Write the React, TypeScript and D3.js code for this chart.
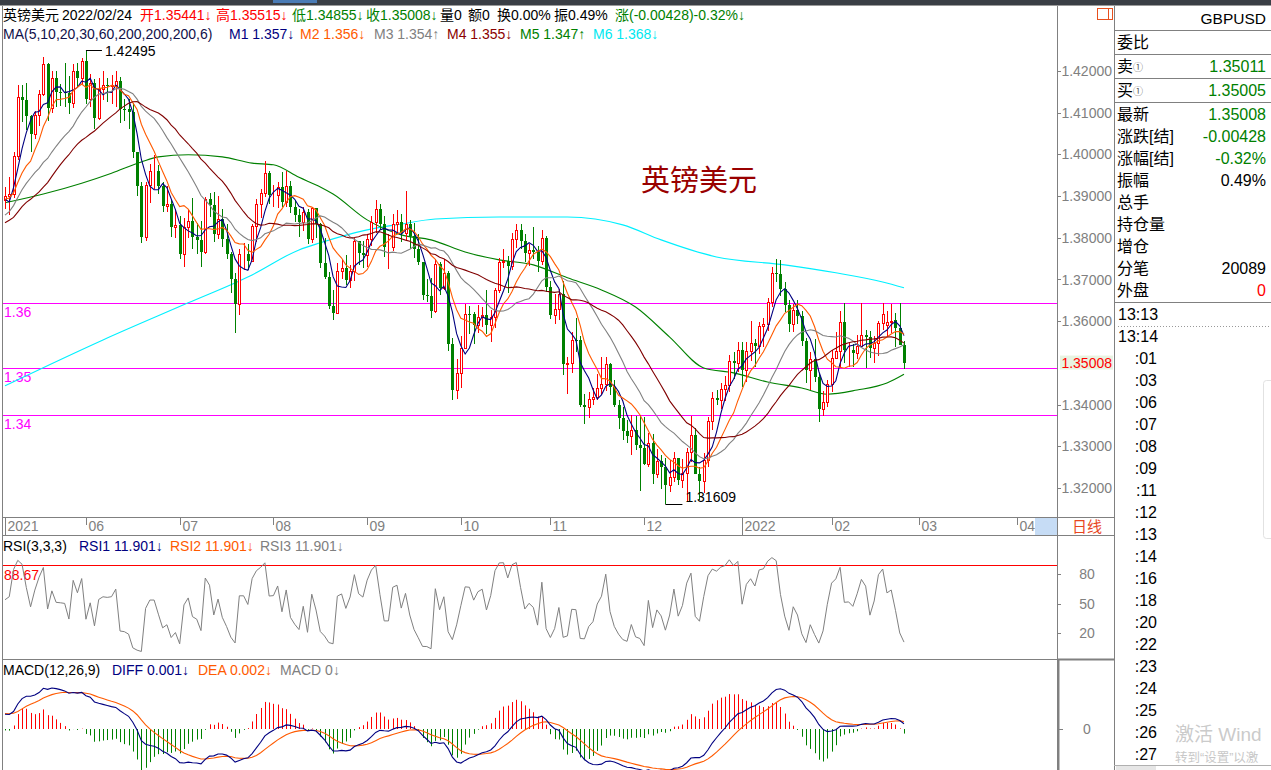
import React from 'react';
import * as d3 from 'd3';

const W = 1271;
const H = 770;
const FONT = '"Liberation Sans", Arial, "Noto Sans CJK SC", sans-serif';
const RED = '#ff0000';
const GREEN = '#008000';
const GRID = '#808080';

// closes before the first visible bar (indicator warm-up)
const preCloses = [1.3745, 1.3665, 1.3722, 1.3795, 1.3756, 1.3744, 1.3783, 1.3827, 1.383, 1.3881, 1.3865, 1.3791, 1.3737, 1.3711, 1.3745, 1.376, 1.3792, 1.379, 1.3834, 1.3942, 1.393, 1.3925, 1.3875, 1.3873, 1.3887, 1.3906, 1.3922, 1.3937, 1.3823, 1.3911, 1.3891];

// daily candles [open, high, low, close], 2021-05-05 .. 2022-02-24
const candles: number[][] = [
  [1.3891, 1.3923, 1.3869, 1.39], [1.39, 1.3947, 1.3855, 1.3905], [1.3905, 1.4006, 1.3896, 1.3995], [1.3995, 1.4167, 1.3987, 1.4138],
  [1.4138, 1.4166, 1.4077, 1.4131], [1.4131, 1.4171, 1.4058, 1.4092], [1.4092, 1.4095, 1.4006, 1.405], [1.405, 1.4105, 1.4038, 1.4094],
  [1.4094, 1.4155, 1.4069, 1.4146], [1.4146, 1.4234, 1.414, 1.4217], [1.4217, 1.4219, 1.4079, 1.4111], [1.4111, 1.42, 1.41, 1.4183],
  [1.4183, 1.42, 1.4114, 1.415], [1.415, 1.4168, 1.4115, 1.4149], [1.4149, 1.4219, 1.4114, 1.4148], [1.4148, 1.4187, 1.4098, 1.4123],
  [1.4123, 1.4216, 1.4112, 1.4201], [1.4201, 1.4218, 1.416, 1.4183], [1.4183, 1.423, 1.4168, 1.4224],
  [1.4224, 1.42495, 1.4122, 1.4134], [1.4134, 1.4194, 1.4114, 1.4171], [1.4171, 1.4182, 1.4061, 1.4087], [1.4087, 1.4184, 1.4082, 1.4158],
  [1.4158, 1.42, 1.4131, 1.4166], [1.4166, 1.4183, 1.4125, 1.4165], [1.4165, 1.419, 1.412, 1.4166], [1.4166, 1.42, 1.4114, 1.4175],
  [1.4175, 1.4185, 1.4075, 1.411], [1.411, 1.4134, 1.408, 1.4108], [1.4108, 1.4134, 1.406, 1.4102], [1.4102, 1.4124, 1.3991, 1.4005],
  [1.4005, 1.4006, 1.3901, 1.3924], [1.3924, 1.3934, 1.3787, 1.3803], [1.3803, 1.3935, 1.3793, 1.3927], [1.3927, 1.3977, 1.3883, 1.3961],
  [1.3961, 1.3999, 1.3917, 1.3961], [1.3961, 1.3975, 1.3905, 1.3925], [1.3925, 1.3935, 1.3863, 1.3876], [1.3876, 1.3925, 1.3861, 1.388],
  [1.388, 1.3892, 1.3803, 1.3826], [1.3826, 1.3868, 1.3799, 1.3831],
  [1.3831, 1.3852, 1.375, 1.376], [1.376, 1.3848, 1.3731, 1.3825], [1.3825, 1.3867, 1.38, 1.3841], [1.3841, 1.3895, 1.3773, 1.3801],
  [1.3801, 1.3836, 1.3762, 1.3795], [1.3795, 1.384, 1.3731, 1.3766], [1.3766, 1.3898, 1.376, 1.3892], [1.3892, 1.3908, 1.385, 1.3879],
  [1.3879, 1.391, 1.379, 1.3808], [1.3808, 1.3901, 1.3798, 1.3846], [1.3846, 1.387, 1.3779, 1.3796], [1.3796, 1.3832, 1.3749, 1.3762],
  [1.3762, 1.3765, 1.3667, 1.3701], [1.3701, 1.3715, 1.3572, 1.3642], [1.3642, 1.3773, 1.3614, 1.3762], [1.3762, 1.3788, 1.3722, 1.3762],
  [1.3762, 1.3784, 1.3722, 1.3744], [1.3744, 1.3833, 1.3743, 1.3828], [1.3828, 1.3893, 1.379, 1.388], [1.388, 1.3918, 1.3847, 1.3908],
  [1.3908, 1.3984, 1.3897, 1.3956], [1.3956, 1.3959, 1.388, 1.3902],
  [1.3902, 1.3927, 1.3873, 1.3903], [1.3903, 1.3933, 1.3872, 1.3923], [1.3923, 1.3958, 1.3874, 1.3887], [1.3887, 1.3959, 1.3874, 1.3925],
  [1.3925, 1.3937, 1.3859, 1.3873], [1.3873, 1.389, 1.3838, 1.3854], [1.3854, 1.3869, 1.3801, 1.3839], [1.3839, 1.3875, 1.3817, 1.3863],
  [1.3863, 1.387, 1.3786, 1.3797], [1.3797, 1.3874, 1.3787, 1.3872], [1.3872, 1.3872, 1.38, 1.3834], [1.3834, 1.3835, 1.3727, 1.3739],
  [1.3739, 1.38, 1.37, 1.3705], [1.3705, 1.3718, 1.363, 1.3636], [1.3636, 1.3676, 1.3602, 1.362], [1.362, 1.374, 1.3618, 1.3721],
  [1.3721, 1.3748, 1.3702, 1.3728], [1.3728, 1.3759, 1.3686, 1.3699], [1.3699, 1.3735, 1.368, 1.372], [1.372, 1.3799, 1.3697, 1.3793],
  [1.3793, 1.3793, 1.3735, 1.3763], [1.3763, 1.3793, 1.3727, 1.3758],
  [1.3758, 1.381, 1.373, 1.3796], [1.3796, 1.3852, 1.378, 1.3837], [1.3837, 1.3891, 1.3811, 1.3868], [1.3868, 1.388, 1.3818, 1.3834],
  [1.3834, 1.3853, 1.3755, 1.3778], [1.3778, 1.3808, 1.3726, 1.3778], [1.3778, 1.3856, 1.3768, 1.3834], [1.3834, 1.3866, 1.381, 1.3839],
  [1.3839, 1.3856, 1.3791, 1.3812], [1.3812, 1.3913, 1.3795, 1.3832], [1.3832, 1.3843, 1.3774, 1.3804], [1.3804, 1.3835, 1.3752, 1.3772],
  [1.3772, 1.381, 1.3734, 1.3741], [1.3741, 1.3743, 1.365, 1.3662], [1.3662, 1.37, 1.3646, 1.366], [1.366, 1.3703, 1.3608, 1.3625],
  [1.3625, 1.3749, 1.362, 1.3738], [1.3738, 1.3742, 1.3663, 1.368], [1.368, 1.375, 1.3674, 1.3716], [1.3716, 1.3721, 1.3529, 1.3545],
  [1.3545, 1.3559, 1.3412, 1.3434], [1.3434, 1.3509, 1.3413, 1.3475],
  [1.3475, 1.3565, 1.344, 1.3535], [1.3535, 1.3641, 1.3535, 1.3618], [1.3618, 1.3636, 1.357, 1.3617], [1.3617, 1.3622, 1.3545, 1.3592],
  [1.3592, 1.3639, 1.3571, 1.3611], [1.3611, 1.3633, 1.3587, 1.3616], [1.3616, 1.3675, 1.357, 1.3592], [1.3592, 1.3626, 1.355, 1.3609],
  [1.3609, 1.368, 1.3584, 1.3676], [1.3676, 1.3751, 1.3668, 1.3743], [1.3743, 1.3773, 1.3728, 1.3745], [1.3745, 1.3756, 1.3667, 1.3732],
  [1.3732, 1.3812, 1.3723, 1.3797], [1.3797, 1.3834, 1.3775, 1.3818], [1.3818, 1.3834, 1.3774, 1.3793], [1.3793, 1.381, 1.3742, 1.3763],
  [1.3763, 1.3786, 1.3733, 1.377], [1.377, 1.3826, 1.3749, 1.3766], [1.3766, 1.3781, 1.3719, 1.3745], [1.3745, 1.3818, 1.3734, 1.38],
  [1.38, 1.3804, 1.3671, 1.3683],
  [1.3683, 1.3696, 1.3606, 1.3614], [1.3614, 1.3665, 1.3593, 1.3629], [1.3629, 1.3677, 1.3604, 1.3666], [1.3666, 1.3697, 1.3471, 1.3497],
  [1.3497, 1.3515, 1.3425, 1.35], [1.35, 1.3575, 1.3475, 1.3556], [1.3556, 1.3607, 1.3526, 1.3555], [1.3555, 1.3564, 1.3394, 1.3399],
  [1.3399, 1.3426, 1.3354, 1.3395], [1.3395, 1.343, 1.3367, 1.3413], [1.3413, 1.3439, 1.3398, 1.3419], [1.3419, 1.3474, 1.3411, 1.344],
  [1.344, 1.3513, 1.3424, 1.345], [1.345, 1.3514, 1.3432, 1.3497], [1.3497, 1.35, 1.3422, 1.3443], [1.3443, 1.346, 1.3394, 1.34],
  [1.34, 1.3412, 1.3342, 1.3367], [1.3367, 1.3395, 1.3316, 1.3336], [1.3336, 1.3364, 1.3307, 1.3325], [1.3325, 1.3375, 1.3278, 1.3338],
  [1.3338, 1.3372, 1.329, 1.3303], [1.3303, 1.3374, 1.3194, 1.3297],
  [1.3297, 1.3371, 1.3255, 1.3257], [1.3257, 1.3333, 1.325, 1.3309], [1.3309, 1.333, 1.3209, 1.3233], [1.3233, 1.3293, 1.3223, 1.3264],
  [1.3264, 1.3278, 1.3197, 1.325], [1.325, 1.3272, 1.31609, 1.3208], [1.3208, 1.3266, 1.319, 1.3226], [1.3226, 1.3287, 1.3214, 1.3271],
  [1.3271, 1.3272, 1.3206, 1.3219], [1.3219, 1.3269, 1.3201, 1.3236], [1.3236, 1.3296, 1.317, 1.3287], [1.3287, 1.3373, 1.3263, 1.3328],
  [1.3328, 1.3344, 1.3233, 1.3234], [1.3234, 1.325, 1.3172, 1.3216], [1.3216, 1.3285, 1.3187, 1.3268], [1.3268, 1.337, 1.325, 1.336],
  [1.336, 1.3431, 1.334, 1.3415], [1.3415, 1.3435, 1.34, 1.3412], [1.3412, 1.3451, 1.339, 1.3438], [1.3438, 1.3469, 1.3409, 1.3448],
  [1.3448, 1.352, 1.343, 1.3505], [1.3505, 1.3525, 1.3462, 1.35], [1.35, 1.3549, 1.3478, 1.3532],
  [1.3532, 1.355, 1.3443, 1.3482], [1.3482, 1.3549, 1.3455, 1.3529], [1.3529, 1.36, 1.3505, 1.3547], [1.3547, 1.3557, 1.349, 1.354],
  [1.354, 1.3599, 1.3521, 1.3589], [1.3589, 1.3608, 1.3537, 1.3594], [1.3594, 1.3655, 1.3576, 1.3646], [1.3646, 1.3731, 1.3634, 1.3716],
  [1.3716, 1.3749, 1.3693, 1.3713], [1.3713, 1.3747, 1.366, 1.3677], [1.3677, 1.3694, 1.3622, 1.3638], [1.3638, 1.3652, 1.3575, 1.3594],
  [1.3594, 1.3642, 1.3574, 1.3628], [1.3628, 1.3651, 1.3593, 1.3612], [1.3612, 1.3624, 1.3541, 1.3553], [1.3553, 1.356, 1.3451, 1.3484],
  [1.3484, 1.3525, 1.3435, 1.3509], [1.3509, 1.3558, 1.3455, 1.3465], [1.3465, 1.3475, 1.3358, 1.3389], [1.3389, 1.3432, 1.3373, 1.3406],
  [1.3406, 1.346, 1.3395, 1.345],
  [1.345, 1.3532, 1.3431, 1.3512], [1.3512, 1.3575, 1.351, 1.3529], [1.3529, 1.3625, 1.3488, 1.3597], [1.3597, 1.3643, 1.35, 1.353],
  [1.353, 1.3547, 1.3489, 1.3531], [1.3531, 1.3545, 1.349, 1.3524], [1.3524, 1.3568, 1.351, 1.3541], [1.3541, 1.3644, 1.3541, 1.3568],
  [1.3568, 1.358, 1.3488, 1.3563], [1.3563, 1.3576, 1.3512, 1.3535], [1.3535, 1.3565, 1.35, 1.3548], [1.3548, 1.36, 1.3516, 1.3596],
  [1.3596, 1.3644, 1.358, 1.3618], [1.3592, 1.3624, 1.3561, 1.3597], [1.3597, 1.3641, 1.3572, 1.3601], [1.3603, 1.362, 1.3538, 1.3584],
  [1.3584, 1.3643, 1.3543, 1.3544], [1.35441, 1.35515, 1.34855, 1.35008],
];

// month labels on the date axis: [bar index, label, year boundary]
const monthTicks: [number, string, boolean][] = [
  [0, '2021', true], [19, '06', false], [41, '07', false], [63, '08', false], [85, '09', false], [107, '10', false],
  [128, '11', false], [150, '12', false], [173, '2022', true], [194, '02', false], [214.5, '03', false], [237.5, '04', false],
];

// MA60 and MA200: [bar index, value]
const ma60Pts = [[0, 1.3884], [9, 1.3905], [18, 1.3931], [25, 1.3955], [32, 1.3982], [36, 1.3994], [43, 1.3999], [51, 1.3994], [58, 1.3979], [63, 1.3975], [69, 1.3945], [74, 1.3922], [77, 1.3905], [85, 1.3843], [93, 1.3807], [100, 1.3795], [108, 1.3766], [116, 1.3747], [124, 1.3735], [132, 1.3704], [140, 1.3675], [148, 1.3634], [156, 1.3562], [164, 1.3488], [171, 1.3476], [179, 1.3454], [187, 1.344], [193, 1.3425], [200, 1.3435], [207, 1.3452], [211, 1.3473]];
const ma200Pts = [[0, 1.3445], [23, 1.3555], [43, 1.3644], [58, 1.3711], [69, 1.3771], [74, 1.3788], [85, 1.3819], [93, 1.3833], [101, 1.3845], [116, 1.385], [132, 1.385], [145, 1.3831], [154, 1.3795], [167, 1.3754], [183, 1.3735], [195, 1.3716], [206, 1.3694], [211, 1.368]];

const maPeriods = [5, 10, 20, 30];
const maColors = ['#000080', '#ff5a00', '#808080', '#800000'];
const userLines: [number, string][] = [[1.36436, '1.36'], [1.34878, '1.35'], [1.3375, '1.34']];
const priceTicks = [1.42, 1.41, 1.4, 1.39, 1.38, 1.37, 1.36, 1.34, 1.33, 1.32];
const lastPrice = 1.35008;
const rsiTicks = [80, 50, 20];
const rsiMark = 88.67;

const header1: [number, string, string][] = [
  [3, '英镑美元', '#000'], [62, '2022/02/24', '#000'], [140, '开1.35441↓', RED], [216, '高1.35515↓', RED],
  [292, '低1.34855↓', GREEN], [366, '收1.35008↓', GREEN], [440, '量0', '#000'], [468, '额0', '#000'],
  [497, '换0.00%', '#000'], [554, '振0.49%', '#000'], [615, '涨(-0.00428)-0.32%↓', GREEN],
];
const header2: [number, string, string][] = [
  [3, 'MA(5,10,20,30,60,200,200,200,6)', '#10104a'], [229, 'M1 1.357↓', '#000080'], [300, 'M2 1.356↓', '#ff5a00'],
  [374, 'M3 1.354↑', '#808080'], [447, 'M4 1.355↓', '#8b0000'], [520, 'M5 1.347↑', GREEN], [593, 'M6 1.368↓', '#00e8f0'],
];
const rsiHeader: [number, string, string][] = [
  [3, 'RSI(3,3,3)', '#000'], [79, 'RSI1 11.901↓', '#000080'], [170, 'RSI2 11.901↓', '#ff5a00'], [260, 'RSI3 11.901↓', '#808080'],
];
const macdHeader: [number, string, string][] = [
  [3, 'MACD(12,26,9)', '#000'], [112, 'DIFF 0.001↓', '#000080'], [198, 'DEA 0.002↓', '#ff5a00'], [280, 'MACD 0↓', '#808080'],
];

const quoteRows: [number, string, string, string, string][] = [
  [42, '委比', '', '', '#000'], [66, '卖', '①', '1.35011', GREEN], [90, '买', '①', '1.35005', GREEN],
  [114, '最新', '', '1.35008', GREEN], [136, '涨跌[结]', '', '-0.00428', GREEN], [158, '涨幅[结]', '', '-0.32%', GREEN],
  [180, '振幅', '', '0.49%', '#000'], [202, '总手', '', '', '#000'], [224, '持仓量', '', '', '#000'],
  [246, '增仓', '', '', '#000'], [268, '分笔', '', '20089', '#000'], [290, '外盘', '', '0', RED],
];
const tickTimes = ['13:14', ':01', ':03', ':06', ':07', ':08', ':09', ':11', ':12', ':13', ':14', ':16', ':18', ':20', ':22', ':23', ':24', ':25', ':26', ':27'];
const watermark = ['激活 Wind', '转到“设置”以激'];

export default function App() {
  const N = candles.length;
  const P = preCloses.length;
  const all = [...preCloses, ...candles.map((c) => c[3])];

  const x = d3.scaleLinear().domain([0, N - 1]).range([5, 904]);
  const y = d3.scaleLinear().domain([1.32, 1.42]).range([488, 71]);
  const ry = d3.scaleLinear().domain([20, 80]).range([633, 574]);

  // moving averages
  const maSeries = maPeriods.map((n) =>
    d3.range(N).map((i) => d3.mean(all.slice(P + i - n + 1, P + i + 1)) as number)
  );

  // RSI (SMA smoothing, N=3)
  const rsiAll: number[] = [];
  let su = 0, sa = 0;
  for (let k = 1; k < all.length; k++) {
    const d = all[k] - all[k - 1];
    const u = Math.max(d, 0), a = Math.abs(d);
    if (k === 1) { su = u; sa = a; } else { su = (u + 2 * su) / 3; sa = (a + 2 * sa) / 3; }
    rsiAll[k] = sa === 0 ? 50 : (su / sa) * 100;
  }
  const rsi = d3.range(N).map((i) => rsiAll[P + i]);

  // MACD
  let e12 = all[0], e26 = all[0], dea = 0;
  const diffAll: number[] = [], deaAll: number[] = [];
  all.forEach((c, k) => {
    e12 = k === 0 ? c : (2 * c + 11 * e12) / 13;
    e26 = k === 0 ? c : (2 * c + 25 * e26) / 27;
    const df = e12 - e26;
    dea = k === 0 ? df : (2 * df + 8 * dea) / 10;
    diffAll.push(df); deaAll.push(dea);
  });
  const diff = d3.range(N).map((i) => diffAll[P + i]);
  const deaV = d3.range(N).map((i) => deaAll[P + i]);
  const macd = d3.range(N).map((i) => 2 * (diff[i] - deaV[i]));
  const mmax = d3.max([...diff, ...deaV, ...macd]) as number;
  const my = d3.scaleLinear().domain([0, mmax]).range([729, 688]);

  const line = d3.line<number>().x((_, i) => x(i)).y((v) => y(v));
  const ptLine = d3.line<number[]>().x((d) => x(d[0])).y((d) => y(d[1])).curve(d3.curveMonotoneX);
  const rsiLine = d3.line<number>().x((_, i) => x(i)).y((v) => ry(v));
  const mLine = d3.line<number>().x((_, i) => x(i)).y((v) => my(v));

  const hiI = d3.maxIndex(candles, (c) => c[1]);
  const loI = d3.minIndex(candles, (c) => c[2]);
  const fmt5 = d3.format('.5f');

  const hdr = (items: [number, string, string][], by: number) =>
    items.map(([tx, t, col], k) => (
      <text key={k} x={tx} y={by} fill={col} fontSize={14}>{t}</text>
    ));

  return (
    <svg width={W} height={H} style={{ position: 'absolute', left: 0, top: 0, background: '#fff' }} fontFamily={FONT}>
      <defs>
        <clipPath id="main"><rect x={3} y={44} width={1054} height={472} /></clipPath>
        <clipPath id="rsi"><rect x={3} y={556} width={1054} height={102} /></clipPath>
        <clipPath id="macd"><rect x={3} y={680} width={1054} height={90} /></clipPath>
      </defs>
      <rect x={0} y={0} width={W} height={H} fill="#fff" />
      {/* top bar */}
      <rect x={0} y={0} width={W} height={5} fill="#3a3e45" />
      <rect x={273} y={0} width={44} height={3} fill="#4a7bb5" />
      <line x1={0} x2={W} y1={5.5} y2={5.5} stroke="#9a9a9a" />

      {/* frame lines */}
      <line x1={2.5} x2={2.5} y1={6} y2={H} stroke={GRID} />
      <line x1={1057.5} x2={1057.5} y1={6} y2={H} stroke={GRID} />
      <line x1={1114.5} x2={1114.5} y1={6} y2={H} stroke={GRID} />
      <line x1={3} x2={1114} y1={517.5} y2={517.5} stroke={GRID} />
      <line x1={3} x2={1114} y1={535.5} y2={535.5} stroke={GRID} />
      <line x1={3} x2={1057} y1={659.5} y2={659.5} stroke={GRID} />
      <line x1={1057} x2={1114} y1={659.5} y2={659.5} stroke={GRID} strokeWidth={2} />
      <line x1={1058.5} x2={1058.5} y1={660} y2={H} stroke={GRID} strokeWidth={2} />

      {/* headers */}
      {hdr(header1, 20)}
      {hdr(header2, 39)}
      {hdr(rsiHeader, 551)}
      {hdr(macdHeader, 675)}

      {/* title */}
      <text x={641} y={191} fontSize={29} fill="#990000">英镑美元</text>

      {/* top-right icon */}
      <rect x={1097.5} y={8.5} width={15} height={11} fill="none" stroke="#e8501e" />
      <line x1={1108.5} x2={1108.5} y1={8.5} y2={19.5} stroke="#e8501e" />

      {/* price axis */}
      {priceTicks.map((p) => (
        <g key={p}>
          <line x1={1057} x2={1061} y1={Math.round(y(p)) + 0.5} y2={Math.round(y(p)) + 0.5} stroke={GRID} />
          <text x={1112} y={y(p) + 5} fontSize={14} fill={GRID} textAnchor="end">{p.toFixed(5)}</text>
        </g>
      ))}
      <rect x={1060} y={y(lastPrice) - 7} width={53} height={14} fill="#e8f3e2" />
      <text x={1112} y={y(lastPrice) + 5} fontSize={14} fill={RED} textAnchor="end">{lastPrice.toFixed(5)}</text>

      {/* main chart */}
      <g clipPath="url(#main)">
        {userLines.map(([p, lab]) => (
          <g key={lab}>
            <line x1={3} x2={1057} y1={Math.round(y(p)) + 0.5} y2={Math.round(y(p)) + 0.5} stroke="#ff00ff" />
            <text x={4} y={y(p) + 14} fontSize={14} fill="#ff00ff">{lab}</text>
          </g>
        ))}
        <path d={ptLine(ma200Pts) || ''} fill="none" stroke="#00f0ff" strokeWidth={1.1} />
        <path d={ptLine(ma60Pts) || ''} fill="none" stroke={GREEN} strokeWidth={1.1} />
        {candles.map((c, i) => {
          const [o, h, l, cl] = c;
          const px = Math.round(x(i));
          const up = cl >= o;
          const col = up ? RED : GREEN;
          const top = Math.round(y(Math.max(o, cl)));
          const bot = Math.round(y(Math.min(o, cl)));
          const yh = Math.round(y(h));
          const yl = Math.round(y(l));
          if (up) {
            return (
              <g key={i}>
                <line x1={px + 0.5} x2={px + 0.5} y1={yh} y2={top} stroke={col} />
                <line x1={px + 0.5} x2={px + 0.5} y1={bot} y2={yl} stroke={col} />
                <rect x={px - 0.5} y={top + 0.5} width={2} height={Math.max(bot - top, 0)} fill="#fff" stroke={col} />
              </g>
            );
          }
          return (
            <g key={i}>
              <line x1={px + 0.5} x2={px + 0.5} y1={yh} y2={yl} stroke={col} />
              <rect x={px - 1} y={top} width={3} height={Math.max(bot - top, 1)} fill={col} />
            </g>
          );
        })}
        {maSeries.map((s, k) => (
          <path key={k} d={line(s) || ''} fill="none" stroke={maColors[k]} strokeWidth={1.1} />
        ))}
        {/* high / low annotations */}
        <line x1={x(hiI)} x2={x(hiI) + 16} y1={Math.round(y(candles[hiI][1])) + 0.5} y2={Math.round(y(candles[hiI][1])) + 0.5} stroke="#000" />
        <text x={x(hiI) + 19} y={y(candles[hiI][1]) + 6} fontSize={14} fill="#000">{fmt5(candles[hiI][1])}</text>
        <line x1={x(loI)} x2={x(loI) + 17} y1={Math.round(y(candles[loI][2])) + 0.5} y2={Math.round(y(candles[loI][2])) + 0.5} stroke="#000" />
        <text x={x(loI) + 20} y={y(candles[loI][2]) - 2} fontSize={14} fill="#000">{fmt5(candles[loI][2])}</text>
      </g>

      {/* date axis */}
      {monthTicks.map(([i, lab, yr]) => {
        const tx = Math.round(x(i)) + 0.5;
        return (
          <g key={lab}>
            <line x1={tx} x2={tx} y1={518} y2={yr ? 535 : 525} stroke={GRID} />
            <text x={tx + 2} y={531} fontSize={14} fill={GRID}>{lab}</text>
          </g>
        );
      })}
      <rect x={1035} y={518} width={22} height={17} fill="#c6dcf5" />
      <text x={1072} y={532} fontSize={15} fill="#e8461e">日线</text>

      {/* RSI (RSI1 = RSI2 = RSI3, grey drawn last) */}
      <line x1={3} x2={1057} y1={Math.round(ry(rsiMark)) + 0.5} y2={Math.round(ry(rsiMark)) + 0.5} stroke={RED} />
      <text x={4} y={ry(rsiMark) + 15} fontSize={14} fill={RED}>{rsiMark.toFixed(2)}</text>
      <g clipPath="url(#rsi)">
        <path d={rsiLine(rsi) || ''} fill="none" stroke="#808080" />
      </g>
      {rsiTicks.map((v) => (
        <g key={v}>
          <line x1={1057} x2={1061} y1={Math.round(ry(v)) + 0.5} y2={Math.round(ry(v)) + 0.5} stroke={GRID} />
          <text x={1087} y={ry(v) + 5} fontSize={14} fill={GRID} textAnchor="middle">{v}</text>
        </g>
      ))}

      {/* MACD */}
      <g clipPath="url(#macd)">
        {macd.map((v, i) => {
          const px = Math.round(x(i)) + 0.5;
          return <line key={i} x1={px} x2={px} y1={my(0)} y2={my(v)} stroke={v >= 0 ? RED : GREEN} />;
        })}
        <path d={mLine(deaV) || ''} fill="none" stroke="#ff5a00" strokeWidth={1.1} />
        <path d={mLine(diff) || ''} fill="none" stroke="#000080" strokeWidth={1.1} />
      </g>
      <line x1={1059} x2={1063} y1={Math.round(my(0)) + 0.5} y2={Math.round(my(0)) + 0.5} stroke={GRID} />
      <text x={1087} y={my(0) + 5} fontSize={14} fill={GRID} textAnchor="middle">0</text>

      {/* right quote panel */}
      <text x={1266} y={24} fontSize={15.5} fill="#000" textAnchor="end">GBPUSD</text>
      {[30, 54, 78, 102, 302].map((ly) => (
        <line key={ly} x1={1114} x2={W} y1={ly + 0.5} y2={ly + 0.5} stroke={GRID} />
      ))}
      {quoteRows.map(([cy, lab, sub, val, col]) => (
        <g key={lab}>
          <text x={1117} y={cy + 6} fontSize={16} fill="#000">
            {lab}
            {sub ? <tspan fontSize={10} fill="#555" dy={-1}>{sub}</tspan> : null}
          </text>
          {val ? <text x={1266} y={cy + 6} fontSize={16} fill={col} textAnchor="end">{val}</text> : null}
        </g>
      ))}
      <text x={1118} y={320} fontSize={16} fill="#000">13:13</text>
      <line x1={1118} x2={W} y1={326.5} y2={326.5} stroke="#999" strokeDasharray="1,2" />
      {tickTimes.map((t, k) => (
        <text key={k} x={k === 0 ? 1118 : 1157} y={342 + 22 * k} fontSize={16} fill="#000" textAnchor={k === 0 ? 'start' : 'end'}>{t}</text>
      ))}
      <rect x={1263.5} y={380.5} width={12} height={158} rx={3} fill="#fff" stroke="#e2e2e2" />
      <text x={1175} y={741} fontSize={19} fill="#c4c4c4" fillOpacity={0.9}>{watermark[0]}</text>
      <text x={1175} y={762} fontSize={12.5} fill="#c8c8c8">{watermark[1]}</text>
      <line x1={1114} x2={W} y1={765.5} y2={765.5} stroke="#b0b0b0" />
      <rect x={1116} y={766} width={40} height={4} fill="#e6e6e6" />
    </svg>
  );
}
